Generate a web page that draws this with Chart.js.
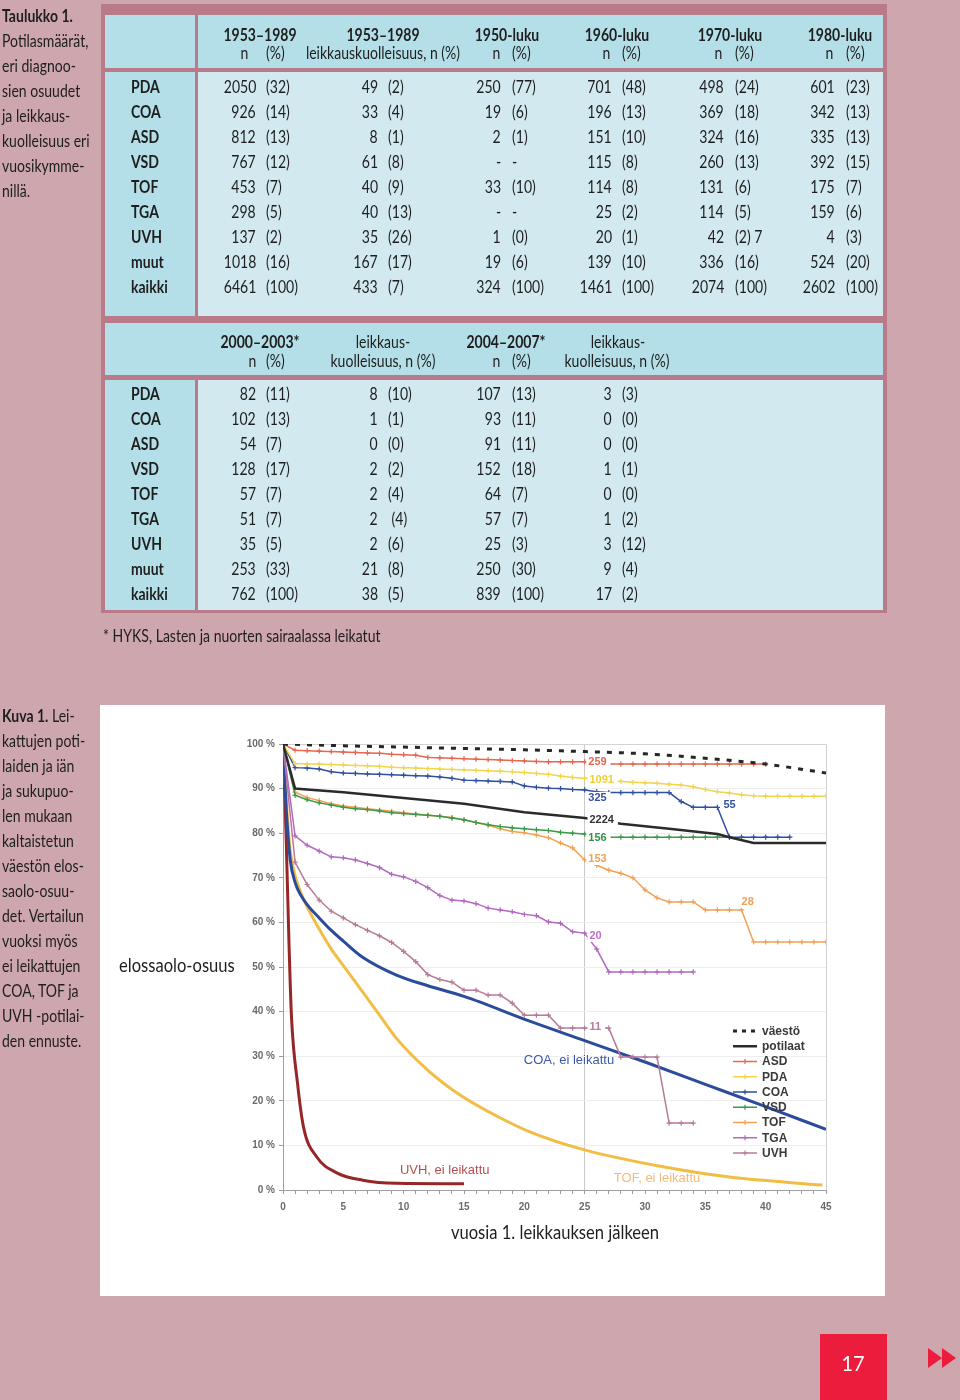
<!DOCTYPE html>
<html><head><meta charset="utf-8">
<script src="https://cdn.jsdelivr.net/npm/chart.js@4.4.0/dist/chart.umd.min.js"></script>
<style>
html,body{margin:0;padding:0;}
body{width:960px;height:1400px;background:#cda6ae;position:relative;overflow:hidden;font-family:Lato,'Open Sans',sans-serif;color:#1e1e1e;}
.t{position:absolute;white-space:pre;line-height:24px;height:24px;}
.b{font-weight:700;}
.bx{position:absolute;}
</style></head><body>
<!-- table frames -->
<div class="bx" style="left:101px;top:4px;width:786px;height:609px;background:#b97b8a;"></div>
<div class="bx" style="left:105px;top:15px;width:90px;height:53px;background:#b5dfe8;"></div>
<div class="bx" style="left:198px;top:15px;width:685px;height:53px;background:#b5dfe8;"></div>
<div class="bx" style="left:105px;top:72px;width:90px;height:244px;background:#b5dfe8;"></div>
<div class="bx" style="left:198px;top:72px;width:685px;height:244px;background:#d1e9ef;"></div>
<div class="bx" style="left:105px;top:323px;width:778px;height:52px;background:#b5dfe8;"></div>
<div class="bx" style="left:105px;top:380px;width:90px;height:230px;background:#b5dfe8;"></div>
<div class="bx" style="left:198px;top:380px;width:685px;height:230px;background:#d1e9ef;"></div>

<div class="bx" style="left:100px;top:705px;width:785px;height:591px;background:#fff;">
<canvas id="c" width="785" height="591" style="display:block;"></canvas></div>

<div class="bx" style="left:820px;top:1334px;width:67px;height:66px;background:#ec1c3d;"></div>
<svg class="bx" style="left:0;top:0;" width="960" height="1400"><polygon points="928,1348 942,1358 928,1368" fill="#ec1c3d"/><polygon points="942,1348 956,1358 942,1368" fill="#ec1c3d"/></svg>

<script>
// ---------------- table data ----------------
const ROWS = ['PDA','COA','ASD','VSD','TOF','TGA','UVH','muut','kaikki'];
const T1_1953_N = ['2050','926','812','767','453','298','137','1018','6461'];
const T1_1953_P = ['(32)','(14)','(13)','(12)','(7)','(5)','(2)','(16)','(100)'];
const T1_MORT_N = ['49','33','8','61','40','40','35','167','433'];
const T1_MORT_P = ['(2)','(4)','(1)','(8)','(9)','(13)','(26)','(17)','(7)'];
const T1_1950_N = ['250','19','2','-','33','-','1','19','324'];
const T1_1950_P = ['(77)','(6)','(1)','-','(10)','-','(0)','(6)','(100)'];
const T1_1960_N = ['701','196','151','115','114','25','20','139','1461'];
const T1_1960_P = ['(48)','(13)','(10)','(8)','(8)','(2)','(1)','(10)','(100)'];
const T1_1970_N = ['498','369','324','260','131','114','42','336','2074'];
const T1_1970_P = ['(24)','(18)','(16)','(13)','(6)','(5)','(2) 7','(16)','(100)'];
const T1_1980_N = ['601','342','335','392','175','159','4','524','2602'];
const T1_1980_P = ['(23)','(13)','(13)','(15)','(7)','(6)','(3)','(20)','(100)'];

const T2_0003_N = ['82','102','54','128','57','51','35','253','762'];
const T2_0003_P = ['(11)','(13)','(7)','(17)','(7)','(7)','(5)','(33)','(100)'];
const T2_MORT1_N = ['8','1','0','2','2','2','2','21','38'];
const T2_MORT1_P = ['(10)','(1)','(0)','(2)','(4)',' (4)','(6)','(8)','(5)'];
const T2_0407_N = ['107','93','91','152','64','57','25','250','839'];
const T2_0407_P = ['(13)','(11)','(11)','(18)','(7)','(7)','(3)','(30)','(100)'];
const T2_MORT2_N = ['3','0','0','1','0','1','3','9','17'];
const T2_MORT2_P = ['(3)','(0)','(0)','(1)','(0)','(2)','(12)','(4)','(2)'];

// ---------------- chart data ----------------
const YEARS = [0,1,2,3,4,5,6,7,8,9,10,11,12,13,14,15,16,17,18,19,20,21,22,23,24,25,26,27,28,29,30,31,32,33,34,35,36,37,38,39,40,41,42,43,44,45];
const VAESTO_X = [0,5,10,15,20,25,30,35,40,45];
const VAESTO   = [100,99.6,99.3,99.0,98.7,98.3,97.8,96.8,95.5,93.5];
const POTILAAT_X = [0,1,2,5,10,15,20,25,28,32,36,37,39,45];
const POTILAAT   = [100,90,89.8,89.2,87.9,86.6,84.7,83.4,82.1,81,79.8,79.1,77.8,77.8];
const ASD = [100,98.6,98.5,98.4,98.3,98.2,98.1,98.0,97.9,97.7,97.6,97.5,97.0,96.9,96.8,96.7,96.6,96.5,96.4,96.3,96.2,96.1,96.0,96.0,96.0,96.0,95.6,95.5,95.5,95.5,95.5,95.5,95.5,95.5,95.5,95.5,95.5,95.5,95.5,95.5,95.5];
const PDA = [100,95.6,95.5,95.5,95.4,95.3,95.2,95.1,95.0,94.8,94.7,94.6,94.5,94.4,94.3,94.2,94.1,94.0,93.9,93.8,93.6,93.4,93.2,92.8,92.5,92.3,92.0,91.8,91.6,91.4,91.3,91.2,91.0,90.8,90.4,89.8,89.3,89.0,88.6,88.4,88.3,88.3,88.3,88.3,88.3,88.3];
const COA = [100,94.7,94.6,94.4,93.8,93.5,93.4,93.3,93.2,93.1,93.0,92.9,92.8,92.6,92.3,91.9,91.8,91.7,91.6,91.5,90.6,90.3,90.1,90.0,89.8,89.7,89.3,89.1,89.1,89.1,89.1,89.1,89.1,87.1,85.8,85.8,85.8,79.1,79.1,79.1,79.1,79.1,79.1];
const VSD = [100,88.5,87.5,86.8,86.3,85.8,85.5,85.3,85.0,84.6,84.4,84.2,84.0,83.8,83.4,83.0,82.4,81.9,81.5,81.2,81.0,80.8,80.6,80.2,80.0,79.8,79.1,79.1,79.1,79.1,79.1,79.1,79.1,79.1,79.1,79.1,79.1,79.1];
const TOF = [100,89.2,88.0,87.3,86.6,86.1,85.8,85.5,85.2,84.9,84.6,84.3,84.0,83.8,83.5,83.0,82.4,81.8,81.0,80.4,80.1,79.6,79.0,77.8,76.7,74.0,72.8,71.7,71.0,70.0,67.3,65.5,64.6,64.6,64.6,62.8,62.8,62.8,62.8,55.6,55.6,55.6,55.6,55.6,55.6,55.6];
const TGA = [100,79.4,77.3,76.0,74.7,74.5,74.0,73.2,72.3,70.8,70.2,69.2,67.8,66.0,65.0,64.8,64.2,63.2,62.8,62.4,61.8,61.5,60.1,59.8,57.9,57.6,54.0,48.9,48.9,48.9,48.9,48.9,48.9,48.9,48.9];
const UVH = [100,73.5,68.5,65.0,62.5,61.0,59.5,58.2,57.0,55.5,53.5,51.2,48.3,47.2,46.6,44.8,44.8,43.7,43.7,41.9,39.2,39.2,39.2,36.3,36.3,36.3,36.3,36.3,29.8,29.8,29.8,29.8,15.0,15.0,15.0];
const COA_NO_X = [0,0.3,0.6,1,1.5,2,3,4,5,6.6,9.4,12,15,20.5,25,30,35,40,45];
const COA_NO   = [100,84,74,69,66,64,61,58.2,55.8,52.2,48.2,45.8,43.4,37.8,33.5,28.7,23.7,18.7,13.6];
const TOF_NO_X = [0,0.3,0.6,1,1.5,2,3,4,5,6.6,8,9.4,12.2,14.9,17.7,20.5,25,31.5,37,44.7];
const TOF_NO   = [100,86,76,70.5,66.5,63.5,58.5,54,50.3,44.4,39.2,34,26.4,20.9,16.6,13,9,5.2,2.9,1.1];
const UVH_NO_X = [0,0.25,0.5,0.7,1.2,1.7,2.8,4.5,6.6,9.4,15];
const UVH_NO   = [100,80,55,39,24,14.1,7.4,3.8,2.2,1.5,1.4];
const Y_TICKS = ['0 %','10 %','20 %','30 %','40 %','50 %','60 %','70 %','80 %','90 %','100 %'];

const LEGEND_ITEMS = ['väestö','potilaat','ASD','PDA','COA','VSD','TOF','TGA','UVH'];
const PT_LABELS = [
  {t:'259',  x:25.3, y:96.0, c:'#e8654e'},
  {t:'1091', x:25.4, y:91.9, c:'#f0cf3c'},
  {t:'325',  x:25.3, y:87.9, c:'#33519f'},
  {t:'2224', x:25.4, y:83.0, c:'#333333'},
  {t:'156',  x:25.3, y:78.9, c:'#2f9444'},
  {t:'153',  x:25.3, y:74.2, c:'#f2a155'},
  {t:'28',   x:38.0, y:64.6, c:'#f2a155'},
  {t:'55',   x:36.5, y:86.3, c:'#33519f'},
  {t:'20',   x:25.4, y:57.0, c:'#c070c8'},
  {t:'11',   x:25.4, y:36.5, c:'#b87a98'}
];
const CURVE_LABELS = [
  {t:'COA, ei leikattu', x:23.7, y:29.1, c:'#3d5aa8'},
  {t:'UVH, ei leikattu', x:13.4, y:4.3, c:'#b4504f'},
  {t:'TOF, ei leikattu', x:31.0, y:2.7, c:'#f5b878'}
];

// ---------------- text helper ----------------
const S = 0.85;
function put(x, y, text, o) {
  o = o || {};
  const d = document.createElement('div');
  d.className = 't' + (o.bold ? ' b' : '');
  if (o.html) d.innerHTML = text; else d.textContent = text;
  d.style.fontSize = (o.size || 16.5) + 'px';
  d.style.top = (y - 12) + 'px';
  if (o.color) d.style.color = o.color;
  const a = o.align || 'left';
  if (a === 'right') { d.style.right = (960 - x) + 'px'; d.style.transformOrigin = '100% 50%'; }
  else if (a === 'center') { d.style.left = (x - 300) + 'px'; d.style.width = '600px'; d.style.textAlign = 'center'; d.style.transformOrigin = '50% 50%'; }
  else { d.style.left = x + 'px'; d.style.transformOrigin = '0 50%'; }
  d.style.transform = 'scaleX(' + (o.sx || S) + ')';
  document.body.appendChild(d);
}

// captions
const CAP1 = ['Potilasmäärät,','eri diagnoo-','sien osuudet','ja leikkaus-','kuolleisuus eri','vuosikymme-','nillä.'];
put(2, 16, 'Taulukko 1.', {bold:true});
CAP1.forEach((s,i)=>put(2, 41 + 25*i, s));
const CAP2 = ['kattujen poti-','laiden ja iän','ja sukupuo-','len mukaan','kaltaistetun','väestön elos-','saolo-osuu-','det. Vertailun','vuoksi myös','ei leikattujen','COA, TOF ja','UVH -potilai-','den ennuste.'];
put(2, 716, '<b>Kuva 1.</b> Lei-', {html:true});
CAP2.forEach((s,i)=>put(2, 741 + 25*i, s));
put(103, 636, '* HYKS, Lasten ja nuorten sairaalassa leikatut');

// table 1
const NR = [256,378,501,612,724,835];
const PL = [266,388,512,622,735,846];
const T1 = [[T1_1953_N,T1_1953_P],[T1_MORT_N,T1_MORT_P],[T1_1950_N,T1_1950_P],[T1_1960_N,T1_1960_P],[T1_1970_N,T1_1970_P],[T1_1980_N,T1_1980_P]];
const T1_TITLES = ['1953–1989','1953–1989','1950-luku','1960-luku','1970-luku','1980-luku'];
const T1_TC = [260,383,507,617,730,840];
const T1_NH = [248,null,500,610,722,833];
T1_TITLES.forEach((s,i)=>put(T1_TC[i], 35, s, {bold:true, align:'center'}));
T1_NH.forEach((x,i)=>{
  if (x === null) { put(383, 53, 'leikkauskuolleisuus, n (%)', {align:'center'}); return; }
  put(x, 53, 'n', {align:'right'}); put(PL[i], 53, '(%)');
});
ROWS.forEach((r,j)=>{
  const y = 86.5 + 25*j;
  put(131, y, r, {bold:true});
  T1.forEach((col,i)=>{ put(NR[i], y, col[0][j], {align:'right'}); put(PL[i], y, col[1][j]); });
});
// table 2
const T2 = [[T2_0003_N,T2_0003_P],[T2_MORT1_N,T2_MORT1_P],[T2_0407_N,T2_0407_P],[T2_MORT2_N,T2_MORT2_P]];
put(260, 342, '2000–2003*', {bold:true, align:'center'});
put(256, 361, 'n', {align:'right'}); put(266, 361, '(%)');
put(383, 342, 'leikkaus-', {align:'center'});
put(383, 361, 'kuolleisuus, n (%)', {align:'center'});
put(506, 342, '2004–2007*', {bold:true, align:'center'});
put(500, 361, 'n', {align:'right'}); put(512, 361, '(%)');
put(618, 342, 'leikkaus-', {align:'center'});
put(617, 361, 'kuolleisuus, n (%)', {align:'center'});
ROWS.forEach((r,j)=>{
  const y = 393.5 + 25*j;
  put(131, y, r, {bold:true});
  T2.forEach((col,i)=>{ put(NR[i], y, col[0][j], {align:'right'}); put(PL[i], y, col[1][j]); });
});

// chart axis titles & page number
put(119, 965, 'elossaolo-osuus', {size:19.5});
put(555, 1232, 'vuosia 1. leikkauksen jälkeen', {size:19.5, align:'center'});
put(853, 1363, '17', {size:21, align:'center', color:'#ffffff', sx:0.95});

// ---------------- chart ----------------
const xy = (xs, ys) => ys.map((v,i)=>({x:xs[i], y:v}));
const COLORS = {ASD:'#e8654e', PDA:'#f2d548', COA:'#2f4f9f', VSD:'#3a9a48', TOF:'#f2a155', TGA:'#b468c2', UVH:'#b87a98'};
function marked(label, arr) {
  const c = COLORS[label];
  return {label, data: xy(YEARS, arr), borderColor:c, backgroundColor:c, borderWidth:1.5,
    pointStyle:'cross', pointRadius:2.6, pointBorderWidth:1.2, pointBorderColor:c, tension:0};
}
const datasets = [
  {label:'väestö', data: xy(VAESTO_X, VAESTO), borderColor:'#262626', borderWidth:3, borderDash:[5,7], pointRadius:0, cubicInterpolationMode:'monotone'},
  {label:'potilaat', data: xy(POTILAAT_X, POTILAAT), borderColor:'#2b2b2b', borderWidth:2.5, pointRadius:0, tension:0},
  marked('ASD', ASD), marked('PDA', PDA), marked('COA', COA), marked('VSD', VSD),
  marked('TOF', TOF), marked('TGA', TGA), marked('UVH', UVH),
  {label:'COA, ei leikattu', data: xy(COA_NO_X, COA_NO), borderColor:'#2b4b9b', borderWidth:3, pointRadius:0, cubicInterpolationMode:'monotone'},
  {label:'TOF, ei leikattu', data: xy(TOF_NO_X, TOF_NO), borderColor:'#f2bd45', borderWidth:3, pointRadius:0, cubicInterpolationMode:'monotone'},
  {label:'UVH, ei leikattu', data: xy(UVH_NO_X, UVH_NO), borderColor:'#962727', borderWidth:3, pointRadius:0, cubicInterpolationMode:'monotone'}
];

const framePlugin = {
  id:'frame',
  beforeDatasetsDraw(chart) {
    const {ctx, chartArea:a} = chart;
    ctx.save(); ctx.strokeStyle = '#d2d2d2'; ctx.lineWidth = 1;
    ctx.beginPath(); ctx.moveTo(a.left, a.top + 0.5); ctx.lineTo(a.right + 0.5, a.top + 0.5); ctx.lineTo(a.right + 0.5, a.bottom); ctx.stroke();
    ctx.restore();
  }
};
const labelPlugin = {
  id:'labels',
  afterDatasetsDraw(chart) {
    const {ctx, scales:{x, y}} = chart;
    ctx.save();
    ctx.textBaseline = 'middle';
    ctx.font = 'bold 11px "Liberation Sans", Arial, sans-serif';
    PT_LABELS.forEach(l => {
      const px = x.getPixelForValue(l.x), py = y.getPixelForValue(l.y);
      const w = ctx.measureText(l.t).width;
      ctx.fillStyle = '#ffffff'; ctx.fillRect(px - 2, py - 6, w + 6, 12);
      ctx.fillStyle = l.c; ctx.textAlign = 'left'; ctx.fillText(l.t, px, py);
    });
    ctx.font = '13px "Liberation Sans", Arial, sans-serif';
    ctx.textAlign = 'center';
    CURVE_LABELS.forEach(l => {
      ctx.fillStyle = l.c; ctx.fillText(l.t, x.getPixelForValue(l.x), y.getPixelForValue(l.y));
    });
    ctx.restore();
  }
};
const legendPlugin = {
  id:'legendBox',
  afterDraw(chart) {
    const {ctx} = chart;
    ctx.save();
    ctx.font = 'bold 12px "Liberation Sans", Arial, sans-serif';
    ctx.textBaseline = 'middle';
    LEGEND_ITEMS.forEach((name, i) => {
      const ds = chart.data.datasets.find(d => d.label === name);
      const yy = 326 + 15.25 * i, x0 = 633, x1 = 657;
      ctx.strokeStyle = ds.borderColor;
      ctx.lineWidth = name === 'väestö' ? 3 : (name === 'potilaat' ? 2.5 : 1.5);
      ctx.setLineDash(name === 'väestö' ? [4,5] : []);
      ctx.beginPath(); ctx.moveTo(x0, yy); ctx.lineTo(x1, yy); ctx.stroke();
      ctx.setLineDash([]);
      if (ds.pointRadius > 0) {
        const cx = (x0 + x1) / 2;
        ctx.lineWidth = 1.2;
        ctx.beginPath(); ctx.moveTo(cx, yy - 2.6); ctx.lineTo(cx, yy + 2.6); ctx.moveTo(cx - 2.6, yy); ctx.lineTo(cx + 2.6, yy); ctx.stroke();
      }
      ctx.fillStyle = '#3a3a3a'; ctx.textAlign = 'left';
      ctx.fillText(name, 662, yy + 0.5);
    });
    ctx.restore();
  }
};

new Chart(document.getElementById('c'), {
  type:'line',
  data:{datasets},
  options:{
    responsive:false, animation:false, events:[],
    layout:{padding:{left:0, right:59, top:39, bottom:0}},
    scales:{
      x:{type:'linear', min:0, max:45,
        ticks:{stepSize:1, autoSkip:false, maxRotation:0, padding:7, color:'#6a6a6a',
          font:{family:'"Liberation Sans", Arial, sans-serif', size:10, weight:'bold'},
          callback:(v)=> (v % 5 === 0 ? String(v) : '')},
        grid:{color:(c)=> (c.tick && c.tick.value === 25 ? '#cacaca' : 'rgba(0,0,0,0)'), tickColor:'#9a9a9a', tickLength:4},
        border:{color:'#a0a0a0'},
        afterFit:(s)=>{ s.height = 106; }
      },
      y:{min:0, max:100,
        ticks:{stepSize:10, padding:4, color:'#6a6a6a',
          font:{family:'"Liberation Sans", Arial, sans-serif', size:10, weight:'bold'},
          callback:(v)=> Y_TICKS[Math.round(v/10)]},
        grid:{color:'#eeeeee', tickColor:'#9a9a9a', tickLength:4},
        border:{color:'#a0a0a0'},
        afterFit:(s)=>{ s.width = 183; }
      }
    },
    plugins:{legend:{display:false}, tooltip:{enabled:false}}
  },
  plugins:[framePlugin, labelPlugin, legendPlugin]
});
</script>
</body></html>
